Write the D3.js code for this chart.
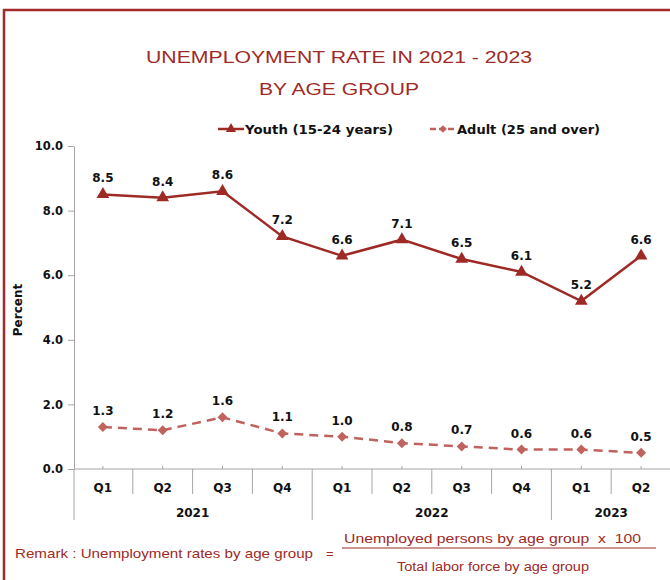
<!DOCTYPE html>
<html lang="en">
<head>
    <meta charset="UTF-8">
    <title>Unemployment Rate by Age Group</title>
    <script src="https://d3js.org/d3.v7.min.js"></script>
    <style>
        body { margin: 0; background: #fff; }
        svg { display: block; }
    </style>
</head>
<body>

    <svg width="670" height="580"></svg>

    <script>
        // Data
        const quarters = ["Q1", "Q2", "Q3", "Q4", "Q1", "Q2", "Q3", "Q4", "Q1", "Q2"];
        const years = [
            { label: "2021", from: 0, to: 4 },
            { label: "2022", from: 4, to: 8 },
            { label: "2023", from: 8, to: 10 }
        ];
        const youth = [8.5, 8.4, 8.6, 7.2, 6.6, 7.1, 6.5, 6.1, 5.2, 6.6];
        const adult = [1.3, 1.2, 1.6, 1.1, 1.0, 0.8, 0.7, 0.6, 0.6, 0.5];
        const yTicks = [0, 2, 4, 6, 8, 10];

        const darkRed = "#9e2a26";
        const rose = "#c0625d";
        const grey = "#a6a6a6";
        const boldFont = "'DejaVu Sans', Verdana, sans-serif";
        const plainFont = "'Liberation Sans', Arial, sans-serif";

        const svg = d3.select("svg");

        // outer frame
        svg.append("rect")
            .attr("x", 4).attr("y", 10)
            .attr("width", 700).attr("height", 620)
            .attr("fill", "none")
            .attr("stroke", "#a52a2a")
            .attr("stroke-width", 2.5);

        // Title (wide face, so stretch the glyphs a little)
        svg.append("text")
            .attr("x", 146).attr("y", 63)
            .attr("font-family", plainFont)
            .attr("font-size", 17)
            .attr("fill", darkRed)
            .attr("textLength", 386)
            .attr("lengthAdjust", "spacingAndGlyphs")
            .text("UNEMPLOYMENT RATE IN 2021 - 2023");
        svg.append("text")
            .attr("x", 259).attr("y", 95)
            .attr("font-family", plainFont)
            .attr("font-size", 17)
            .attr("fill", darkRed)
            .attr("textLength", 160)
            .attr("lengthAdjust", "spacingAndGlyphs")
            .text("BY AGE GROUP");

        // Scales
        const x = d3.scaleBand()
            .domain(d3.range(quarters.length))
            .range([73, 671]);
        const cx = i => x(i) + x.bandwidth() / 2;

        const y = d3.scaleLinear()
            .domain([0, 10])
            .range([469, 146]);

        // Y axis
        const yAxis = svg.append("g")
            .attr("transform", "translate(74,0)")
            .call(d3.axisLeft(y).tickValues(yTicks).tickFormat(d3.format(".1f")).tickSize(6).tickSizeOuter(0));
        yAxis.select(".domain").attr("stroke", grey);
        yAxis.selectAll(".tick line").attr("stroke", grey);
        yAxis.selectAll(".tick text")
            .attr("x", -11)
            .attr("font-family", boldFont)
            .attr("font-weight", "bold")
            .attr("font-size", 11.5)
            .attr("fill", "#111");

        // Y label
        svg.append("text")
            .attr("transform", "translate(22,310) rotate(-90)")
            .attr("text-anchor", "middle")
            .attr("font-family", boldFont)
            .attr("font-weight", "bold")
            .attr("font-size", 12)
            .attr("fill", "#111")
            .text("Percent");

        // X axis line
        svg.append("line")
            .attr("x1", 74).attr("x2", 671)
            .attr("y1", y(0)).attr("y2", y(0))
            .attr("stroke", grey);

        // small tick marks at category centers
        svg.append("g").selectAll("line")
            .data(quarters)
            .join("line")
            .attr("x1", (d, i) => cx(i)).attr("x2", (d, i) => cx(i))
            .attr("y1", y(0) - 3).attr("y2", y(0))
            .attr("stroke", grey);

        // separators between quarters / years
        const yearEdges = new Set(years.map(d => d.from));
        svg.append("g").selectAll("line")
            .data(d3.range(0, quarters.length))
            .join("line")
            .attr("x1", i => i === 0 ? 74 : x(i))
            .attr("x2", i => i === 0 ? 74 : x(i))
            .attr("y1", y(0))
            .attr("y2", i => yearEdges.has(i) ? y(0) + 51 : y(0) + 25)
            .attr("stroke", grey);

        // quarter labels
        svg.append("g").selectAll("text")
            .data(quarters)
            .join("text")
            .attr("x", (d, i) => cx(i))
            .attr("y", 492)
            .attr("text-anchor", "middle")
            .attr("font-family", boldFont)
            .attr("font-weight", "bold")
            .attr("font-size", 12)
            .attr("fill", "#111")
            .text(d => d);

        // year labels
        svg.append("g").selectAll("text")
            .data(years)
            .join("text")
            .attr("x", d => (x(d.from) + x(d.to - 1) + x.bandwidth()) / 2)
            .attr("y", 517)
            .attr("text-anchor", "middle")
            .attr("font-family", boldFont)
            .attr("font-weight", "bold")
            .attr("font-size", 12)
            .attr("fill", "#111")
            .text(d => d.label);

        const line = d3.line()
            .x((d, i) => cx(i))
            .y(d => y(d));

        // Youth series
        svg.append("path")
            .datum(youth)
            .attr("fill", "none")
            .attr("stroke", darkRed)
            .attr("stroke-width", 2.5)
            .attr("d", line);
        svg.append("g").selectAll("path")
            .data(youth)
            .join("path")
            .attr("transform", (d, i) => `translate(${cx(i)},${y(d)})`)
            .attr("d", d3.symbol(d3.symbolTriangle, 70))
            .attr("fill", darkRed);

        // Adult series
        svg.append("path")
            .datum(adult)
            .attr("fill", "none")
            .attr("stroke", rose)
            .attr("stroke-width", 2.5)
            .attr("stroke-dasharray", "9,6")
            .attr("d", line);
        svg.append("g").selectAll("path")
            .data(adult)
            .join("path")
            .attr("transform", (d, i) => `translate(${cx(i)},${y(d)}) rotate(45)`)
            .attr("d", d3.symbol(d3.symbolSquare, 50))
            .attr("fill", rose);

        // value labels
        [youth, adult].forEach(series => {
            svg.append("g").selectAll("text")
                .data(series)
                .join("text")
                .attr("x", (d, i) => cx(i))
                .attr("y", d => y(d) - 12)
                .attr("text-anchor", "middle")
                .attr("font-family", boldFont)
                .attr("font-weight", "bold")
                .attr("font-size", 12)
                .attr("fill", "#111")
                .text(d => d3.format(".1f")(d));
        });

        // Legend
        const legend = [
            { name: "Youth (15-24 years)", color: darkRed, dash: null, sym: "tri", x: 218, w: 148 },
            { name: "Adult (25 and over)", color: rose, dash: "6,3", sym: "dia", x: 430, w: 143 }
        ];
        legend.forEach(l => {
            const g = svg.append("g").attr("transform", `translate(${l.x},129)`);
            g.append("line")
                .attr("x1", 0).attr("x2", 26)
                .attr("stroke", l.color)
                .attr("stroke-width", 2.5)
                .attr("stroke-dasharray", l.dash);
            g.append("path")
                .attr("transform", l.sym === "tri" ? "translate(13,0)" : "translate(13,0) rotate(45)")
                .attr("d", l.sym === "tri" ? d3.symbol(d3.symbolTriangle, 45) : d3.symbol(d3.symbolSquare, 30))
                .attr("fill", l.color);
            g.append("text")
                .attr("x", 27).attr("y", 5)
                .attr("font-family", boldFont)
                .attr("font-weight", "bold")
                .attr("font-size", 13)
                .attr("fill", "#111")
                .attr("textLength", l.w)
                .attr("lengthAdjust", "spacingAndGlyphs")
                .text(l.name);
        });

        // Remark formula
        svg.append("text")
            .attr("x", 15).attr("y", 558)
            .attr("font-family", plainFont)
            .attr("font-size", 13)
            .attr("fill", darkRed)
            .attr("textLength", 298)
            .attr("lengthAdjust", "spacingAndGlyphs")
            .text("Remark : Unemployment rates by age group");
        svg.append("text")
            .attr("x", 326).attr("y", 558)
            .attr("font-family", plainFont)
            .attr("font-size", 13)
            .attr("fill", darkRed)
            .text("=");
        svg.append("line")
            .attr("x1", 342).attr("x2", 656)
            .attr("y1", 548).attr("y2", 548)
            .attr("stroke", darkRed)
            .attr("stroke-width", 1.2);
        svg.append("text")
            .attr("x", 344).attr("y", 543)
            .attr("font-family", plainFont)
            .attr("font-size", 13)
            .attr("fill", darkRed)
            .attr("xml:space", "preserve")
            .attr("textLength", 297)
            .attr("lengthAdjust", "spacingAndGlyphs")
            .text("Unemployed persons by age group  x  100");
        svg.append("text")
            .attr("x", 397).attr("y", 571)
            .attr("font-family", plainFont)
            .attr("font-size", 12)
            .attr("fill", darkRed)
            .attr("textLength", 192)
            .attr("lengthAdjust", "spacingAndGlyphs")
            .text("Total labor force by age group");
    </script>

</body>
</html>
